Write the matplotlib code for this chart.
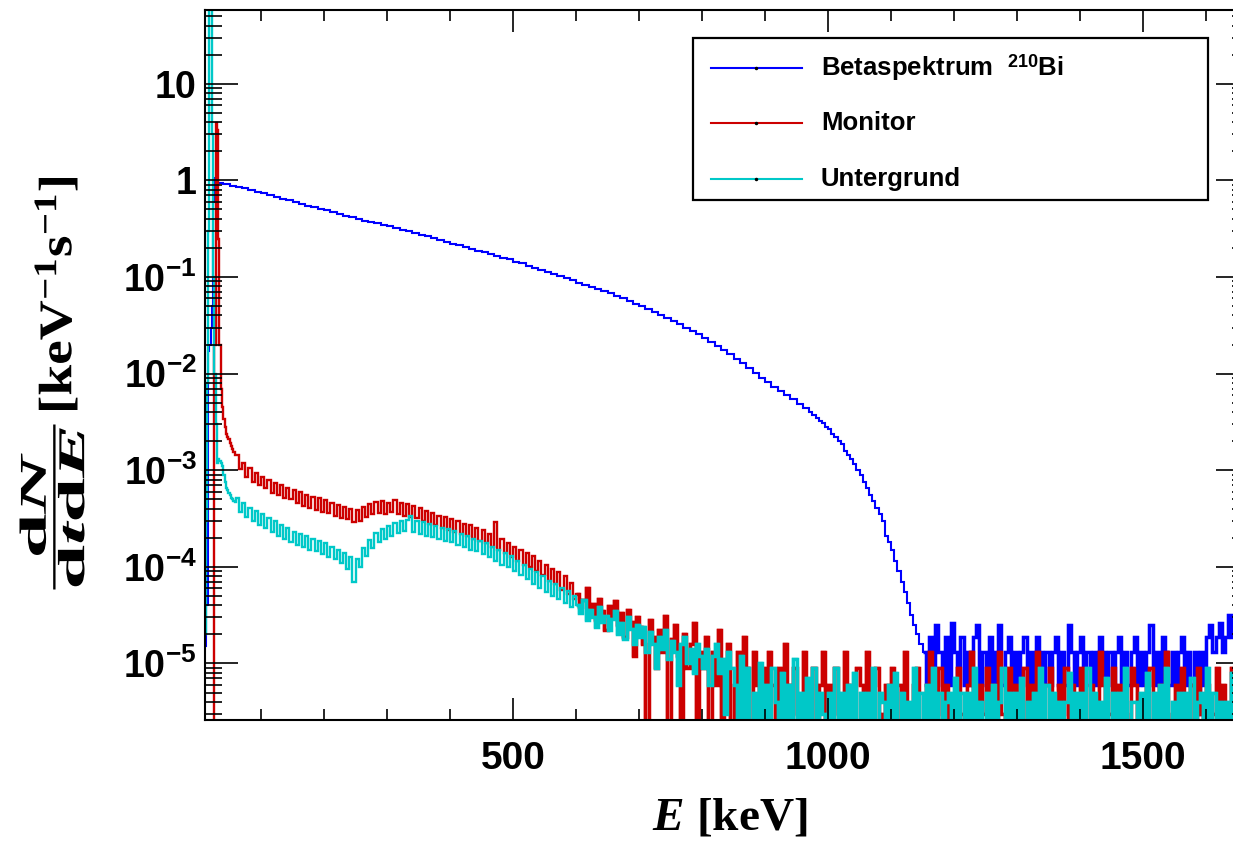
import numpy as np
import matplotlib
matplotlib.use("Agg")
import matplotlib.pyplot as plt
from matplotlib.lines import Line2D
from matplotlib.patches import Rectangle, PathPatch
from matplotlib.textpath import TextPath
from matplotlib.font_manager import FontProperties
from matplotlib.transforms import Affine2D
from matplotlib.ticker import FixedLocator, FixedFormatter, LogLocator, NullFormatter, MultipleLocator

# ---- data (dN/dtdE in keV^-1 s^-1) ----
# low-energy part: 2 keV bins starting at 10 keV
blue_low = [1.5e-5, 7e-5, 4e-5, 1.7e-2, 2e-2, 3e-2, 5e-2, 0.6, 1.05, 0.98]
red_low = [0, 0, 0, 0, 0, 0, 0, 0, 0.02, 3.9, 3.3, 0.25, 0.02, 7e-3, 4.5e-3,
           3.4e-3, 2.8e-3, 2.4e-3, 2.2e-3, 2.1e-3, 1.9e-3, 1.8e-3, 1.65e-3, 1.55e-3, 1.45e-3]
cyan_low = [2e-5, 3e-4, 8e-3, 0.3, 200, 300, 3, 0.1, 0.01, 3e-3, 1.2e-3, 1.3e-3, 1.25e-3,
            1.2e-3, 1.1e-3, 9e-4, 7.5e-4, 6.5e-4, 6.2e-4, 5.8e-4, 5.5e-4, 5.2e-4, 5.0e-4, 4.8e-4, 4.7e-4]

# blue: 10 keV bins from 30 keV up to 970 keV
blue_main = [0.95, 0.915, 0.885, 0.855, 0.825, 0.795, 0.765, 0.735, 0.705, 0.675,
             0.648, 0.62, 0.595, 0.57, 0.548, 0.526, 0.508, 0.49, 0.47, 0.45,
             0.43, 0.413, 0.397, 0.383, 0.372, 0.36, 0.347, 0.334, 0.322, 0.31,
             0.297, 0.284, 0.274, 0.264, 0.252, 0.242, 0.232, 0.222, 0.213, 0.205,
             0.196, 0.188, 0.181, 0.173, 0.166, 0.159, 0.152, 0.144, 0.138, 0.131,
             0.125, 0.119, 0.114, 0.108, 0.103, 0.097, 0.092, 0.087, 0.083, 0.079,
             0.076, 0.072, 0.068, 0.064, 0.060, 0.057, 0.053, 0.050, 0.047, 0.0435,
             0.0405, 0.0375, 0.035, 0.0325, 0.030, 0.0278, 0.0257, 0.0236, 0.0214, 0.0195,
             0.0177, 0.0160, 0.0143, 0.0128, 0.0114, 0.0102, 0.0091, 0.0081, 0.0073, 0.0066,
             0.0060, 0.0054, 0.0049, 0.0044]
# blue: 5 keV bins from 970 keV (falling edge)
blue_fall = [4.0e-3, 3.7e-3, 3.5e-3, 3.2e-3, 3.1e-3, 2.8e-3, 2.7e-3, 2.4e-3, 2.2e-3, 2.0e-3,
             1.85e-3, 1.6e-3, 1.45e-3, 1.3e-3, 1.15e-3, 1.0e-3, 9.0e-4, 7.6e-4, 6.6e-4, 5.6e-4,
             4.8e-4, 4.1e-4, 3.5e-4, 3.0e-4, 2.1e-4, 1.8e-4, 1.5e-4, 1.15e-4, 9.0e-5, 7.0e-5,
             5.5e-5, 4.2e-5, 3.2e-5, 2.5e-5, 2.0e-5, 1.6e-5]
# blue: 5 keV bins from 1150 keV, units of 1e-6
blue_tail = [13, 6, 19, 6, 25, 13, 6, 19, 6, 26, 13, 6, 19, 6, 13, 6, 19, 25, 6, 13,
             6, 19, 6, 13, 25, 6, 13, 19, 6, 13, 6, 13, 19, 6, 13, 6, 19, 13, 6, 13,
             6, 13, 19, 6, 13, 6, 25, 13, 6, 13, 19, 6, 13, 6, 13, 6, 19, 13, 6, 13,
             6, 13, 19, 6, 13, 6, 13, 19, 6, 13, 6, 13, 25, 6, 13, 6, 19, 13, 6, 13,
             6, 13, 19, 6, 13, 6, 13, 3, 13, 6, 19, 25, 13, 19, 26, 13, 19, 32, 19, 13,
             25, 19, 32, 19]

# red / cyan: 5 keV bins from 60 keV to 600 keV, units of 1e-4
red_mid = [14.5, 10.3, 12.0, 8.6, 10.5, 7.6, 9.4, 7.0, 8.6, 6.5, 7.9,
           5.8, 7.4, 5.5, 7.0, 5.1, 6.6, 5.0, 6.3, 4.6, 5.9, 4.3,
           5.5, 4.1, 5.3, 3.9, 5.1, 3.7, 4.9, 3.6, 4.6, 3.4, 4.4,
           3.2, 4.2, 3.1, 4.0, 2.9, 3.9, 3.0, 4.2, 3.3, 4.5, 3.5,
           4.7, 3.6, 4.8, 3.5, 4.6, 3.7, 4.9, 3.5, 4.6, 3.4, 4.5,
           3.3, 4.3, 3.2, 4.1, 3.0, 3.8, 2.8, 3.6, 2.7, 3.4, 2.5,
           3.3, 2.4, 3.1, 2.3, 3.0, 2.2, 2.8, 2.1, 2.7, 1.95, 2.5,
           1.85, 2.4, 1.75, 2.2, 1.6, 2.9, 1.5, 1.95, 1.4, 1.75, 1.25,
           1.6, 1.15, 1.5, 1.05, 1.4, 1.0, 1.3, 0.9, 1.15, 0.82, 1.05,
           0.72, 0.95, 0.66, 0.88, 0.58, 0.8, 0.52, 0.68, 0.47]
cyan_mid = [5.1, 3.7, 4.6, 3.3, 4.1, 3.0, 3.8, 2.7, 3.5, 2.5, 3.2,
            2.3, 3.0, 2.1, 2.7, 1.95, 2.5, 1.8, 2.3, 1.7, 2.2, 1.6,
            2.1, 1.5, 1.95, 1.45, 1.85, 1.35, 1.75, 1.25, 1.6, 1.2, 1.5,
            1.1, 1.4, 0.95, 1.25, 0.7, 1.2, 1.0, 1.55, 1.3, 1.9, 1.55,
            2.25, 1.8, 2.45, 1.95, 2.65, 2.1, 2.85, 2.25, 3.0, 2.35, 3.05,
            3.4, 2.3, 3.0, 2.2, 2.9, 2.1, 2.75, 2.05, 2.65, 1.95, 2.55,
            1.85, 2.45, 1.8, 2.35, 1.7, 2.2, 1.6, 2.1, 1.5, 1.95, 1.45,
            1.85, 1.35, 1.75, 1.25, 1.6, 1.15, 1.5, 1.05, 1.4, 1.0, 1.3,
            0.9, 1.15, 0.82, 1.05, 0.74, 0.95, 0.67, 0.88, 0.6, 0.8, 0.55,
            0.72, 0.5, 0.66, 0.46, 0.6, 0.42, 0.56, 0.38, 0.5]

# red / cyan: 5 keV bins from 600 keV, units of 1e-6 (0 = empty bin)
red_tail = [52, 38, 45, 60, 33, 41, 28, 47, 35, 22, 39, 30, 44, 25, 33, 19, 36, 27, 12, 30,
            24, 16, 0, 28, 19, 9, 22, 13, 31, 0, 18, 25, 12, 0, 20, 9, 16, 26, 0, 13,
            9, 19, 0, 13, 6, 22, 0, 9, 16, 0, 6, 13, 0, 19, 9, 0, 13, 6, 0, 9,
            0, 13, 6, 0, 9, 0, 16, 6, 0, 9, 3, 0, 13, 6, 0, 9, 0, 6, 13, 0,
            6, 0, 9, 3, 0, 13, 6, 0, 0, 9, 6, 0, 13, 0, 6, 9, 0, 3, 6, 0,
            9, 0, 6, 0, 13, 3, 0, 6, 9, 0, 0, 6, 13, 0, 3, 9, 0, 6, 0, 3,
            0, 9, 3, 0, 6, 13, 0, 0, 6, 3, 9, 0, 6, 0, 13, 3, 0, 9, 0, 6,
            3, 0, 9, 0, 6, 0, 13, 3, 0, 6, 9, 0, 0, 6, 3, 9, 0, 6, 0, 3,
            9, 0, 0, 6, 3, 0, 13, 6, 0, 3, 9, 0, 6, 0, 3, 0, 9, 6, 0, 3,
            0, 6, 9, 0, 3, 6, 0, 13, 0, 3, 6, 0, 9, 3, 0, 6, 0, 9, 3, 0,
            6, 0, 3, 9, 0, 6, 3, 0, 9, 0, 6, 3, 0, 6]
cyan_tail = [40, 33, 45, 28, 36, 30, 24, 38, 27, 31, 22, 29, 35, 20, 26, 18, 30, 23, 16, 25,
             19, 24, 13, 21, 16, 9, 19, 14, 22, 11, 17, 13, 6, 16, 19, 10, 14, 8, 16, 12,
             9, 14, 6, 12, 16, 8, 11, 3, 13, 9,
             6, 0, 12, 0, 9, 0, 5, 0, 10, 0, 6, 0, 9, 4, 0, 8, 0, 6, 0, 11,
             0, 5, 0, 7, 0, 9, 0, 5, 3, 0, 5, 0, 9, 0, 5, 0, 6, 0, 8, 0,
             5, 0, 5, 0, 9, 0, 5, 4, 0, 6, 0, 8, 0, 5, 0, 4, 0, 9, 0, 5,
             0, 6, 0, 9, 0, 5, 0, 4, 5, 0, 7, 0, 5, 0, 5, 0, 9, 0, 4, 0,
             5, 0, 6, 0, 4, 9, 0, 5, 0, 5, 0, 7, 0, 4, 0, 5, 0, 9, 0, 6,
             0, 5, 0, 4, 0, 4, 8, 0, 5, 0, 5, 0, 9, 0, 5, 0, 4, 0, 7, 0,
             5, 0, 5, 0, 9, 0, 4, 4, 0, 5, 0, 8, 0, 5, 0, 6, 0, 9, 0, 4,
             0, 5, 0, 5, 0, 7, 0, 4, 5, 0, 9, 0, 5, 0, 4, 0, 4, 0, 8, 0,
             5, 0, 6, 0]

series_labels = ["Betaspektrum  $^{210}$Bi", "Monitor", "Untergrund"]
series_colors = ["#0000ff", "#cc0000", "#00c8c8"]


def hist(start, parts):
    """Chain (bin width, values, unit) segments into edges + contents."""
    edges, vals = [start], []
    for width, values, unit in parts:
        for v in values:
            edges.append(edges[-1] + width)
            vals.append(v * unit)
    return np.array(edges, float), np.array(vals, float)


blue = hist(10, [(2, blue_low, 1), (10, blue_main, 1), (5, blue_fall, 1), (5, blue_tail, 1e-6)])
red = hist(10, [(2, red_low, 1), (5, red_mid, 1e-4), (5, red_tail, 1e-6)])
cyan = hist(10, [(2, cyan_low, 1), (5, cyan_mid, 1e-4), (5, cyan_tail, 1e-6)])

plt.rcParams["font.family"] = ["Liberation Sans", "DejaVu Sans"]
plt.rcParams["font.weight"] = "bold"
plt.rcParams["mathtext.fontset"] = "custom"
plt.rcParams["mathtext.rm"] = "Liberation Sans:bold"
plt.rcParams["mathtext.bf"] = "Liberation Serif:bold"
plt.rcParams["mathtext.it"] = "Liberation Serif:italic:bold"

W, H = 1233, 842
fig = plt.figure(figsize=(W / 100, H / 100), dpi=100)
# plot frame in pixels: left 205, right 1249 (cut by the image), top 10, bottom 720
ax = fig.add_axes([205 / W, 1 - 720 / H, (1249 - 205) / W, (720 - 10) / H])

# (line width, energy where the dense noisy tail starts) per series
styles = [(1.5, 1150), (1.7, 600), (1.7, 600)]
for (edges, vals), col, (lw, e_tail) in zip([blue, red, cyan], series_colors, styles):
    v = np.where(vals > 0, vals, 1e-9)
    ax.stairs(v, edges, color=col, lw=lw, baseline=None)
    # the original has ~1 keV bins, so the noisy tail reads as a dense band
    i = np.searchsorted(edges, e_tail)
    ax.stairs(v[i:], edges[i:], color=col, lw=2.5, baseline=None)

ax.set_yscale("log", nonpositive="clip")
ax.set_xlim(11, 1668)
ax.set_ylim(2.6e-6, 58)

# ROOT-style ticks
ax.xaxis.set_major_locator(FixedLocator([500, 1000, 1500]))
ax.xaxis.set_minor_locator(MultipleLocator(100))
decades = [1e-5, 1e-4, 1e-3, 1e-2, 1e-1, 1, 10]
ax.yaxis.set_major_locator(FixedLocator(decades))
ax.yaxis.set_major_formatter(FixedFormatter([r"$\mathrm{10^{-5}}$", r"$\mathrm{10^{-4}}$",
                                             r"$\mathrm{10^{-3}}$", r"$\mathrm{10^{-2}}$",
                                             r"$\mathrm{10^{-1}}$", "1", "10"]))
ax.yaxis.set_minor_locator(LogLocator(base=10, subs=np.arange(2, 10), numticks=20))
ax.yaxis.set_minor_formatter(NullFormatter())
ax.tick_params(axis="both", which="both", direction="in", top=True, right=True,
               width=1.2, colors="black")
ax.tick_params(axis="x", which="major", length=16, pad=15, labelsize=28)
ax.tick_params(axis="x", which="minor", length=8)
ax.tick_params(axis="y", which="major", length=24, pad=6, labelsize=27)
ax.tick_params(axis="y", which="minor", length=12)
for s in ax.spines.values():
    s.set_linewidth(1.5)

fig.text(730 / W, 1 - 818 / H, r"$\mathit{E}\ \mathbf{[keV]}$", fontsize=34,
         ha="center", va="center")


def vertical_title(s, length, thickness, cx, cy):
    """ROOT draws the y title elongated; stretch a text path to the measured box."""
    tp = TextPath((0, 0), s, size=40, prop=FontProperties(family="Liberation Serif", weight="bold"))
    bb = tp.get_extents()
    tr = (Affine2D().translate(-(bb.x0 + bb.x1) / 2, -(bb.y0 + bb.y1) / 2)
          .scale(length / bb.width, thickness / bb.height)
          .rotate_deg(90)
          .translate(cx, H - cy))
    fig.add_artist(PathPatch(tp, transform=tr, fc="black", ec="none"))


vertical_title(r"$\dfrac{\mathbf{d}\mathit{N}}{\mathbf{d}\mathit{t}\mathbf{d}\mathit{E}}$", 165, 65, 52, 507)
vertical_title(r"$\mathbf{[keV^{-1}s^{-1}]}$", 232, 43, 56, 294)

# legend box drawn by hand to match the ROOT TLegend
fig.add_artist(Rectangle((693 / W, 1 - 200 / H), (1208 - 693) / W, (200 - 38) / H,
                         transform=fig.transFigure, fill=False, lw=1.6, ec="black"))
for row_y, label, col in zip([68, 123, 179], series_labels, series_colors):
    yy = 1 - row_y / H
    fig.add_artist(Line2D([711 / W, 756 / W, 802 / W], [yy, yy, yy], transform=fig.transFigure,
                          color=col, lw=1.5, marker="o", markevery=[1], ms=1.5,
                          mfc="black", mec="black"))
    fig.text(821 / W, yy, label, fontsize=18.5, fontweight="bold", ha="left", va="center")

fig.savefig("out.png", dpi=100)
